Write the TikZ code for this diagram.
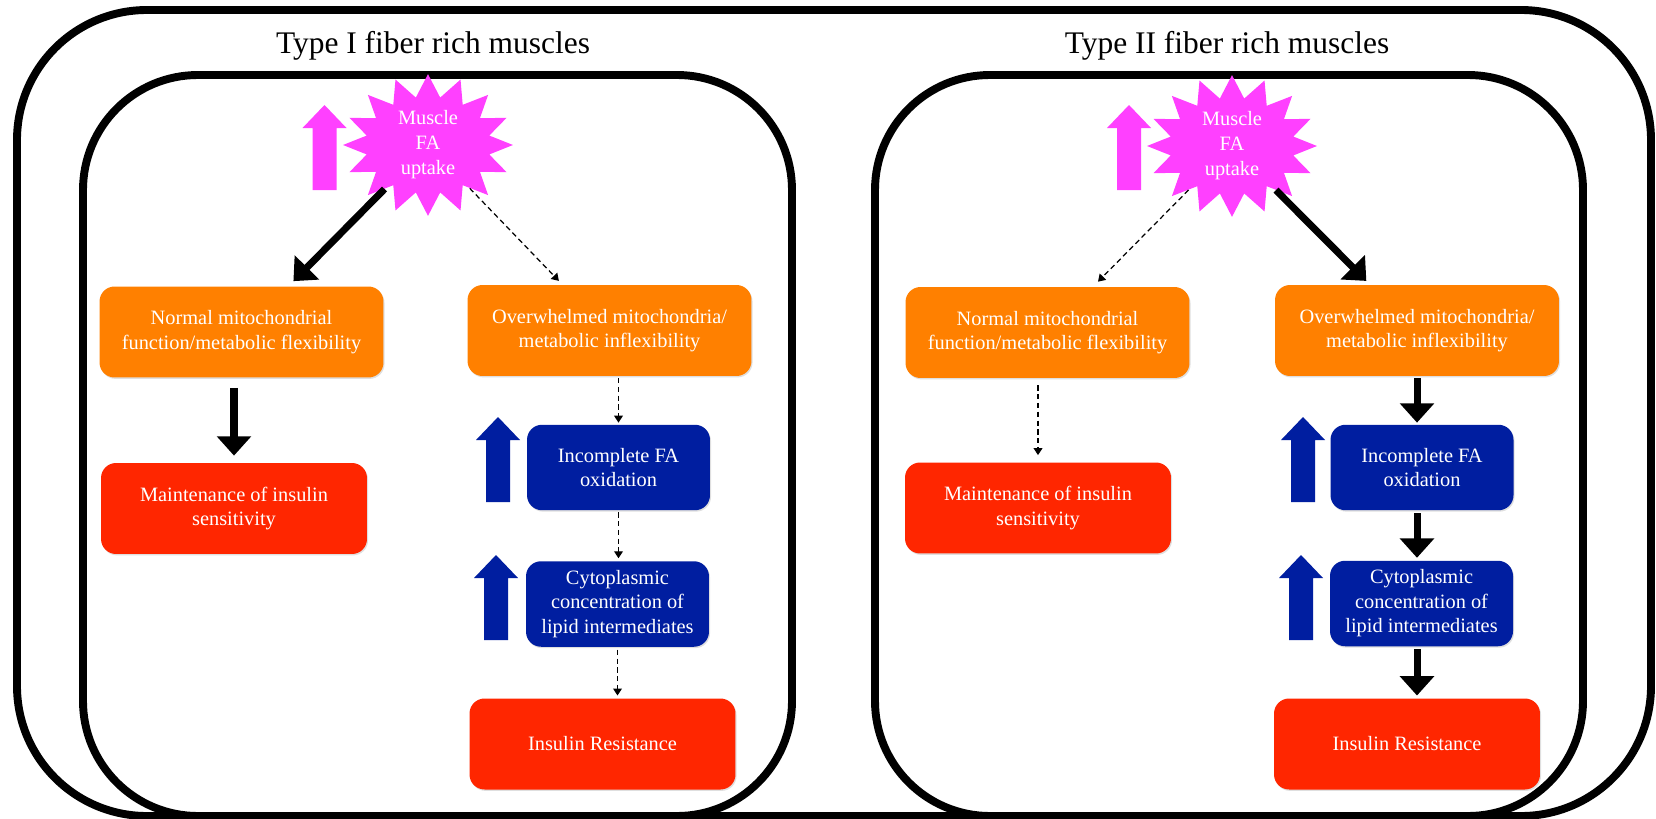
\documentclass[tikz,border=0pt]{standalone}
\usepackage{fontspec}
\setmainfont{Liberation Serif}
\usetikzlibrary{arrows,arrows.meta,calc,shapes.symbols,shadows}

\definecolor{fiberOrange}{RGB}{255,128,0}
\definecolor{fiberRed}{RGB}{255,38,0}
\definecolor{fiberBlue}{RGB}{0,30,160}
\definecolor{fiberPink}{RGB}{255,64,255}

\tikzset{
  frame/.style={draw=black, line width=4.5pt, rounded corners=2.6cm, fill=white},
  panel/.style={draw=black, line width=4.5pt, rounded corners=2.3cm, fill=white},
  title/.style={font=\fontsize{17.9}{20}\selectfont, anchor=base},
  box/.style={rectangle, rounded corners=0.3cm, text=white, align=center, inner sep=0pt,
    font=\fontsize{11.6}{13.9}\selectfont,
    drop shadow={shadow xshift=0.6pt, shadow yshift=-0.8pt, opacity=0.25}},
  orangebox/.style={box, fill=fiberOrange, minimum width=5.68cm, minimum height=1.82cm},
  redbox/.style={box, fill=fiberRed, minimum width=5.32cm, minimum height=1.82cm},
  bluebox/.style={box, fill=fiberBlue, minimum width=3.66cm, minimum height=1.71cm},
  uptake/.style={starburst, starburst points=16, starburst point height=0.45cm,
    random starburst=0, fill=fiberPink, text=white, align=center, inner sep=0pt,
    minimum width=3.4cm, minimum height=2.48cm, font=\fontsize{11.6}{14.2}\selectfont},
  thickarrow/.style={line width=4pt, -{Triangle[length=11pt,width=19pt]}},
  dasharrow/.style={line width=0.7pt, dash pattern=on 3pt off 2pt, -{Triangle[length=4pt,width=5pt]}},
  upar/.pic={\fill (-12,0) -- (-12,-62) -- (-22,-62) -- (0,-85) -- (22,-62) -- (12,-62) -- (12,0) -- cycle;}
}

\begin{document}
\begin{tikzpicture}[x=0.02cm, y=-0.02cm]
\useasboundingbox (0,0) rectangle (1656,818);
\fill[white] (0,0) rectangle (1656,818);
\draw[frame] (17,10) rectangle (1651,816);
\draw[panel] (83,75) rectangle (792,816);
\draw[panel] (875,75) rectangle (1583,816);
\node[title] (titleL) at (433,53) {Type I fiber rich muscles};
\node[title] (titleR) at (1227,53) {Type II fiber rich muscles};

%%%%%%%%%%%%%%%%% Type I
\node[uptake] (starL) at (428,145) {Muscle\\FA\\uptake};
\pic[fill=fiberPink] at (324.5,190) {upar};
\node[orangebox] (normL) at (241.5,332) {Normal mitochondrial\\function/metabolic flexibility};
\node[orangebox] (overL) at (609.5,330.5) {Overwhelmed mitochondria/\\metabolic inflexibility};
\node[redbox] (maintL) at (234,508.5) {Maintenance of insulin\\sensitivity};
\node[bluebox] (incL) at (618.5,467.5) {Incomplete FA\\oxidation};
\node[bluebox] (cytoL) at (617.5,604) {Cytoplasmic\\concentration of\\lipid intermediates};
\node[redbox] (irL) at (602.5,744) {Insulin Resistance};
\pic[fill=fiberBlue] at (498,502) {upar};
\pic[fill=fiberBlue] at (496,640) {upar};
\draw[thickarrow, shorten >=4pt] (starL) -- ($(normL.north)!0.33!(normL.north east)$);
\draw[dasharrow, shorten >=3pt] (starL) -- ($(overL.north)!0.33!(overL.north west)$);
\draw[thickarrow, shorten <=5.7pt, shorten >=4pt] (maintL.north |- normL.south) -- (maintL.north);
\draw[dasharrow, shorten <=1pt, shorten >=1pt] (incL.north |- overL.south) -- (incL.north);
\draw[dasharrow, shorten <=1pt, shorten >=1.5pt] (incL.south) -- (incL.south |- cytoL.north);
\draw[dasharrow, shorten <=1.5pt, shorten >=1.5pt] (cytoL.south) -- (cytoL.south |- irL.north);

%%%%%%%%%%%%%%%%% Type II
\node[uptake] (starR) at (1232,146) {Muscle\\FA\\uptake};
\pic[fill=fiberPink] at (1129,190) {upar};
\node[orangebox] (normR) at (1047.5,332.5) {Normal mitochondrial\\function/metabolic flexibility};
\node[orangebox] (overR) at (1417,330.5) {Overwhelmed mitochondria/\\metabolic inflexibility};
\node[redbox] (maintR) at (1038,508) {Maintenance of insulin\\sensitivity};
\node[bluebox] (incR) at (1422,467.5) {Incomplete FA\\oxidation};
\node[bluebox] (cytoR) at (1421.5,603.5) {Cytoplasmic\\concentration of\\lipid intermediates};
\node[redbox] (irR) at (1407,744) {Insulin Resistance};
\pic[fill=fiberBlue] at (1303,502) {upar};
\pic[fill=fiberBlue] at (1301,640) {upar};
\draw[dasharrow, shorten >=4pt] (starR) -- ($(normR.north)!0.32!(normR.north east)$);
\draw[thickarrow, shorten >=3pt] (starR) -- ($(overR.north)!0.33!(overR.north west)$);
\draw[dasharrow, shorten <=4pt, shorten >=4pt] (maintR.north |- normR.south) -- (maintR.north);
\draw[thickarrow, shorten <=1pt, shorten >=1pt] (overR.south) -- (overR.south |- incR.north);
\draw[thickarrow, shorten <=1.5pt, shorten >=1.5pt] (overR.south |- incR.south) -- (overR.south |- cytoR.north);
\draw[thickarrow, shorten <=1.5pt, shorten >=1.5pt] (overR.south |- cytoR.south) -- (overR.south |- irR.north);
\end{tikzpicture}
\end{document}
